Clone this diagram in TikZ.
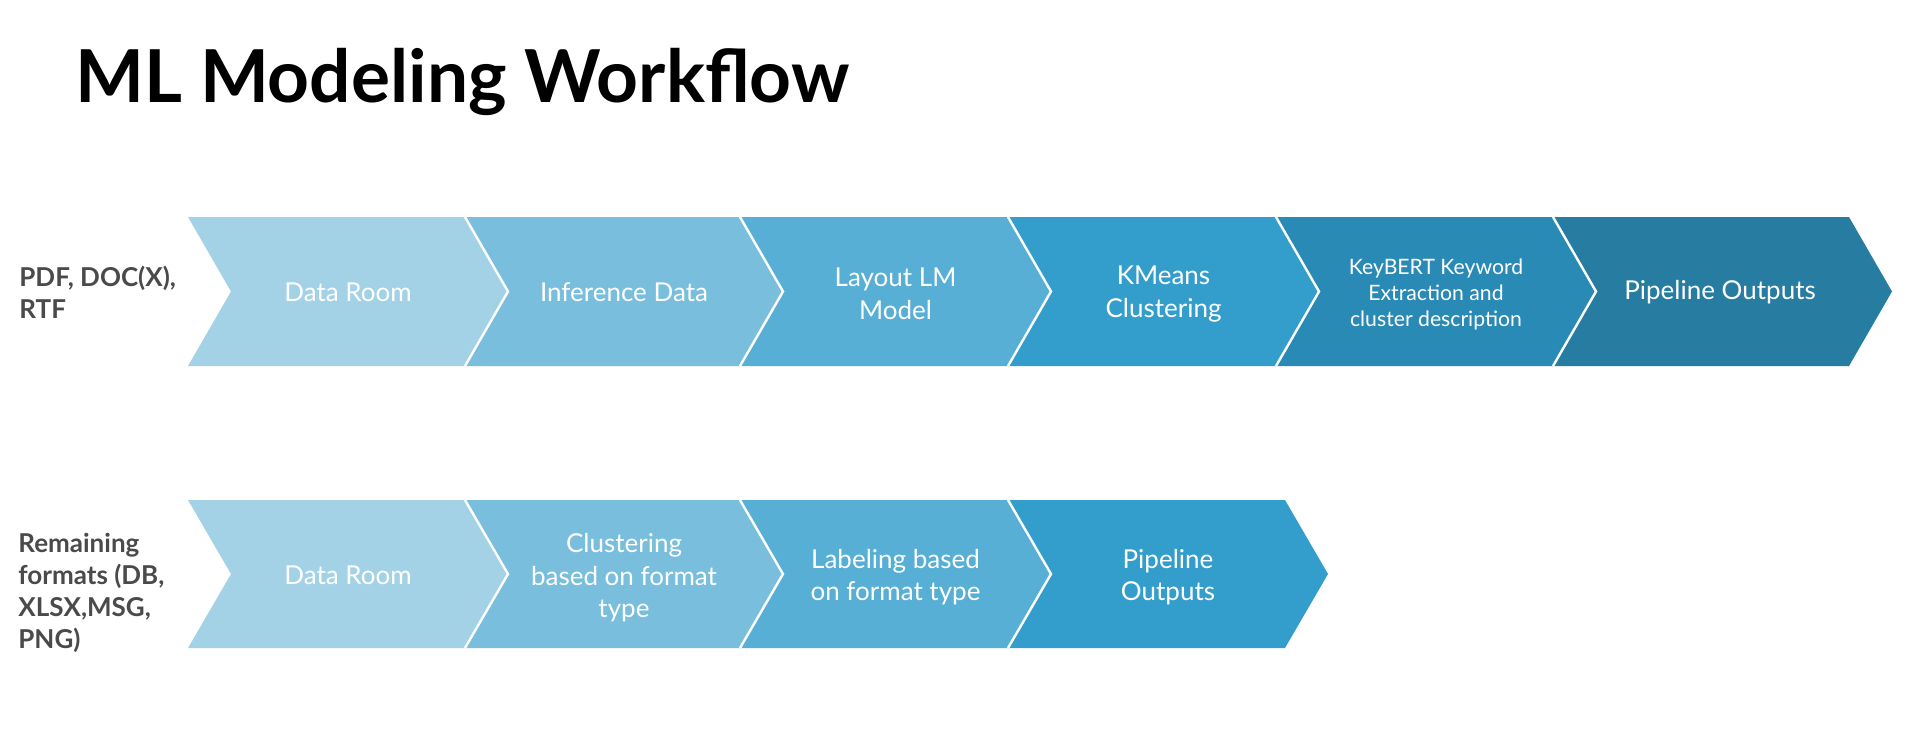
\documentclass[tikz,border=0pt]{standalone}
\usepackage{fontspec}
\setmainfont{Lato}
\definecolor{cA}{HTML}{A3D2E7}
\definecolor{cB}{HTML}{79BEDD}
\definecolor{cC}{HTML}{57AFD6}
\definecolor{cD}{HTML}{339ECC}
\definecolor{cE}{HTML}{2A8AB6}
\definecolor{cF}{HTML}{267DA1}
\definecolor{labelgray}{HTML}{4A4A4A}
\newcommand\mychev[5]{\fill[#5] (#1,#3) -- (#2,#3) -- ({#2+43},{(#3+#4)/2}) -- (#2,#4) -- (#1,#4) -- ({#1+43},{(#3+#4)/2}) -- cycle;}
\newcommand\mysep[3]{\draw[sepline] (#1,#2) -- ({#1+43},{(#2+#3)/2}) -- (#1,#3);}
\begin{document}
\begin{tikzpicture}[x=0.5pt,y=-0.5pt,
  boxtext/.style={text=white,align=center,inner sep=0,font=\fontsize{13}{16.3}\selectfont},
  smalltext/.style={text=white,align=center,inner sep=0,font=\fontsize{10.6}{13}\selectfont},
  rowlabel/.style={text=labelgray,align=left,anchor=base west,inner sep=0,font=\bfseries\fontsize{13}{16}\selectfont},
  sepline/.style={draw=white,line width=1.2pt}]
\useasboundingbox (0,0) rectangle (1920,744);
\fill[white] (0,0) rectangle (1920,744);
\node[anchor=base west,inner sep=0,font=\bfseries\fontsize{36.5}{40}\selectfont] (title) at (75,102) {ML Modeling Workflow};
% row 1
\mychev{188}{465}{217}{366}{cA}
\mychev{465}{740}{217}{366}{cB}
\mychev{740}{1008}{217}{366}{cC}
\mychev{1008}{1276}{217}{366}{cD}
\mychev{1276}{1553}{217}{366}{cE}
\mychev{1553}{1849}{217}{366}{cF}
\mysep{465}{217}{366}
\mysep{740}{217}{366}
\mysep{1008}{217}{366}
\mysep{1276}{217}{366}
\mysep{1553}{217}{366}
% row 2
\mychev{188}{465}{500}{648}{cA}
\mychev{465}{740}{500}{648}{cB}
\mychev{740}{1008}{500}{648}{cC}
\mychev{1008}{1285}{500}{648}{cD}
\mysep{465}{500}{648}
\mysep{740}{500}{648}
\mysep{1008}{500}{648}
% labels (anchor base = last line baseline)
\node[rowlabel] (lab1) at (19,318) {PDF, DOC(X),\\RTF};
\node[rowlabel] (lab2) at (18,648) {Remaining\\formats (DB,\\XLSX,MSG,\\PNG)};
% row 1 texts
\node[boxtext] (a1) at (348,292) {Data Room};
\node[boxtext] (a2) at (624,292) {Inference Data};
\node[boxtext] (a3) at (895.5,294) {Layout LM\\Model};
\node[boxtext] (a4) at (1163.5,294) {KMeans\\Clustering};
\node[smalltext] (a5) at (1436,295) {KeyBERT Keyword\\Extraction and\\cluster description};
\node[boxtext] (a6) at (1720,292) {Pipeline Outputs};
% row 2 texts
\node[boxtext] (b1) at (348,575) {Data Room};
\node[boxtext] (b2) at (624,578) {Clustering\\based on format\\type};
\node[boxtext] (b3) at (895.5,577) {Labeling based\\on format type};
\node[boxtext] (b4) at (1168,577) {Pipeline\\Outputs};
\end{tikzpicture}
\end{document}
